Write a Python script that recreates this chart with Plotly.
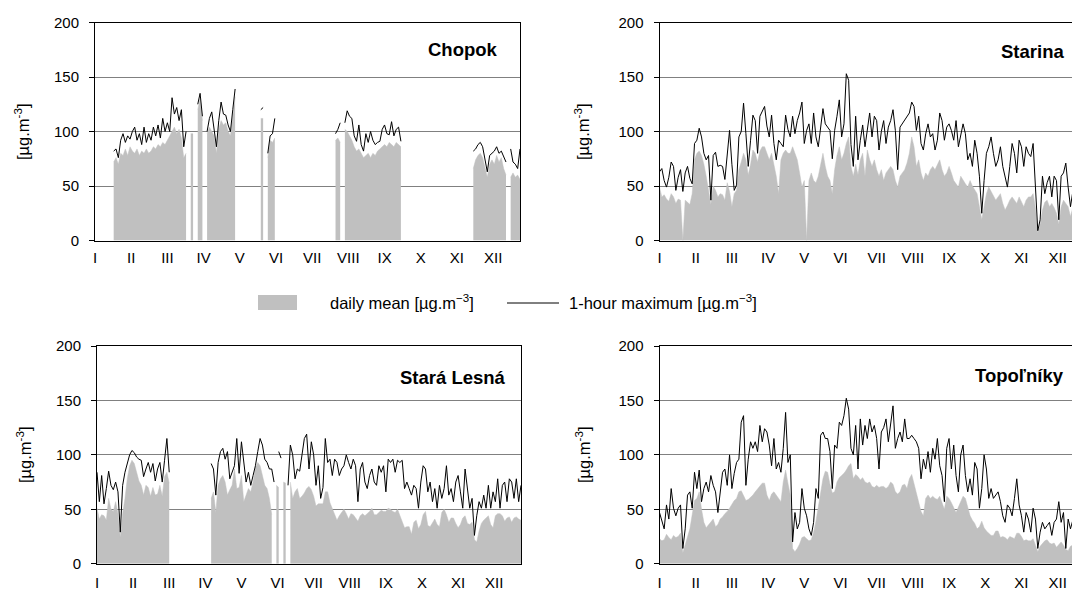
import plotly.graph_objects as go

N = None
MONTHS = ["I", "II", "III", "IV", "V", "VI", "VII", "VIII", "IX", "X", "XI", "XII"]
MONTH_TICK_DAYS = [0, 31, 62, 93, 124, 155, 186, 217, 248, 279, 310, 341]
DAY_STEP = 2  # one sample every 2 days, starting 1 January

# ---------------- Chopok (days 0..364) ----------------
chopok_mean = [
    N, N, N, N, N, N, N, N, 72, 76,
    70, 80, 78, 84, 78, 86, 82, 80, 84, 78,
    82, 80, 84, 80, 82, 86, 84, 88, 86, 90,
    88, 92, 96, 100, 104, 98, 102, 94, 76, 80,
    N, 98, 98, N, 120, 130, 110, N, 98, 104,
    100, 96, 80, 102, 110, 106, 108, 100, 96, 112,
    132, N, N, N, N, N, N, N, N, N,
    N, 112, 112, N, 76, 92, 90, 94, N, N,
    N, N, N, N, N, N, N, N, N, N,
    N, N, N, N, N, N, N, N, N, N,
    N, N, N, 92, 94, 90, N, 102, 100, 96,
    92, 86, 82, 84, 80, 76, 78, 80, 76, 80,
    78, 82, 84, 86, 88, 86, 90, 88, 86, 90,
    88, 86, N, N, N, N, N, N, N, N,
    N, N, N, N, N, N, N, N, N, N,
    N, N, N, N, N, N, N, N, N, N,
    N, N, 66, 74, 78, 80, 76, 66, 58, 70,
    74, 70, 78, 72, 76, 66, 60, N, 58, 62,
    58, 60, 56,
]
chopok_max = [
    N, N, N, N, N, N, N, N, 82, 84,
    76, 92, 98, 90, 96, 93, 100, 104, 92, 98,
    88, 104, 90, 98, 92, 104, 96, 106, 94, 112,
    100, 108, 100, 131, 116, 122, 110, 120, 86, 100,
    N, N, N, N, 125, 135, 114, N, 100, 112,
    118, 104, 86, 110, 127, 116, 115, 106, 100, 120,
    139, N, N, N, N, N, N, N, N, N,
    N, 120, 122, N, 80, 96, 98, 112, N, N,
    N, N, N, N, N, N, N, N, N, N,
    N, N, N, N, N, N, N, N, N, N,
    N, N, N, 98, 102, 108, N, 108, 119, 114,
    112, 96, 91, 106, 88, 82, 98, 90, 100, 92,
    88, 90, 91, 102, 106, 98, 97, 109, 96, 102,
    104, 91, N, N, N, N, N, N, N, N,
    N, N, N, N, N, N, N, N, N, N,
    N, N, N, N, N, N, N, N, N, N,
    N, N, 82, 84, 88, 90, 86, 74, 63, 78,
    80, 82, 86, 80, 82, 76, 72, N, 84, 72,
    70, 66, 84,
]

# ---------------- Starina (days 0..354 visible) ----------------
starina_mean = [
    49, 40, 42, 38, 36, 43, 40, 34, 38, 37,
    0, 37, 35, 33, 43, 74, 80, 82, 78, 70,
    59, 45, 33, 50, 46, 40, 43, 42, 37, 53,
    45, 31, 43, 46, 65, 72, 80, 74, 60, 70,
    83, 80, 72, 82, 86, 86, 80, 74, 80, 68,
    59, 43, 74, 80, 83, 80, 80, 86, 80, 74,
    62, 49, 55, 0, 55, 62, 55, 53, 59, 70,
    80, 68, 59, 55, 43, 65, 78, 86, 74, 80,
    89, 95, 68, 59, 70, 60, 74, 80, 59, 83,
    74, 68, 74, 65, 59, 65, 55, 62, 65, 68,
    65, 55, 49, 59, 62, 65, 71, 80, 95, 86,
    68, 74, 62, 55, 62, 59, 65, 68, 65, 70,
    74, 65, 59, 62, 68, 62, 55, 52, 49, 59,
    55, 52, 49, 55, 50, 46, 43, 31, 19, 31,
    43, 49, 45, 40, 37, 40, 43, 34, 28, 32,
    37, 40, 37, 34, 40, 35, 31, 37, 40, 40,
    43, 30, 7, 15, 28, 35, 37, 31, 34, 30,
    25, 15, 31, 37, 34, 31, 22, 30,
]
starina_max = [
    63, 66, 55, 49, 58, 72, 68, 46, 58, 65,
    45, 62, 68, 57, 52, 89, 92, 103, 95, 80,
    74, 78, 37, 78, 81, 68, 69, 68, 56, 80,
    101, 70, 46, 51, 95, 100, 126, 98, 68, 92,
    115, 110, 80, 114, 118, 123, 105, 95, 115, 89,
    74, 92, 89, 86, 115, 102, 95, 114, 98, 110,
    117, 127, 89, 101, 107, 89, 117, 95, 86, 104,
    121, 107, 104, 101, 75, 101, 114, 129, 95, 107,
    153, 147, 88, 68, 114, 74, 92, 106, 86, 100,
    117, 95, 114, 110, 83, 100, 110, 89, 104, 110,
    120, 101, 65, 104, 107, 110, 114, 117, 127, 123,
    101, 114, 89, 83, 98, 107, 95, 98, 83, 92,
    117, 110, 92, 104, 107, 101, 92, 110, 86, 98,
    107, 98, 74, 80, 68, 92, 80, 59, 25, 55,
    80, 86, 95, 80, 68, 74, 86, 68, 59, 49,
    68, 89, 80, 62, 92, 86, 68, 86, 80, 77,
    89, 49, 9, 19, 59, 43, 53, 59, 40, 59,
    55, 19, 59, 62, 71, 49, 31, 45,
]

# ---------------- Stará Lesná (days 0..364) ----------------
lesna_mean = [
    51, 41, 45, 44, 40, 60, 50, 48, 57, 46,
    24, 46, 60, 78, 90, 95, 92, 85, 76, 72,
    63, 72, 70, 62, 70, 63, 64, 72, 62, 80,
    84, 74, N, N, N, N, N, N, N, N,
    N, N, N, N, N, N, N, N, N, 60,
    66, 47, 72, 78, 81, 75, 63, 68, 72, 87,
    69, 70, 81, 57, 63, 69, 66, 75, 88, 93,
    90, 81, 72, 69, 60, 45, N, 72, 70, N,
    75, 74, N, 75, 60, 66, 69, 60, 62, 65,
    69, 71, 68, 62, 53, 55, 55, 55, 66, 66,
    56, 50, 45, 40, 44, 47, 50, 46, 41, 46,
    45, 42, 39, 44, 46, 44, 46, 48, 51, 45,
    45, 47, 49, 48, 48, 51, 50, 48, 47, 50,
    44, 38, 33, 34, 34, 27, 38, 40, 32, 36,
    45, 48, 35, 34, 38, 41, 36, 34, 47, 50,
    45, 38, 42, 42, 37, 33, 36, 42, 44, 37,
    36, 38, 22, 20, 30, 37, 40, 42, 44, 36,
    33, 44, 46, 46, 44, 39, 42, 43, 38, 42,
    43, 41, 40,
]
lesna_max = [
    84, 57, 81, 55, 69, 85, 72, 68, 75, 66,
    29, 72, 84, 92, 100, 104, 102, 98, 96, 95,
    80, 87, 93, 84, 92, 76, 87, 93, 75, 95,
    115, 84, N, N, N, N, N, N, N, N,
    N, N, N, N, N, N, N, N, N, 92,
    87, 63, 93, 103, 106, 96, 103, 78, 84, 90,
    115, 83, 112, 90, 75, 84, 72, 81, 90, 103,
    115, 109, 96, 93, 87, 87, 75, N, 103, 97,
    N, N, 72, 109, 100, 78, 87, 85, 100, 115,
    119, 87, 112, 100, 72, 90, 60, 70, 115, 93,
    96, 81, 96, 93, 81, 87, 90, 100, 93, 87,
    96, 90, 57, 87, 93, 75, 69, 81, 87, 75,
    72, 90, 84, 90, 66, 96, 93, 96, 84, 95,
    93, 95, 69, 75, 69, 63, 72, 69, 51, 75,
    90, 87, 66, 75, 57, 69, 51, 72, 60, 69,
    90, 63, 69, 57, 75, 81, 66, 51, 87, 66,
    51, 60, 26, 44, 57, 51, 63, 51, 72, 51,
    66, 57, 78, 51, 72, 75, 57, 78, 75, 60,
    78, 57, 72,
]

# ---------------- Topoľníky (days 0..354 visible) ----------------
topolniky_mean = [
    23, 21, 22, 27, 24, 22, 26, 24, 25, 28,
    10, 18, 26, 32, 45, 58, 60, 66, 50, 38,
    33, 36, 39, 41, 34, 36, 41, 43, 46, 48,
    51, 55, 58, 60, 66, 67, 63, 58, 59, 61,
    63, 66, 69, 72, 74, 74, 63, 58, 64, 66,
    63, 60, 57, 75, 86, 74, 63, 14, 11, 14,
    18, 24, 25, 23, 21, 22, 29, 39, 52, 63,
    78, 85, 84, 73, 65, 66, 75, 79, 81, 83,
    86, 90, 92, 78, 82, 80, 77, 79, 75, 74,
    75, 71, 70, 72, 70, 71, 71, 69, 71, 75,
    73, 66, 64, 66, 72, 73, 69, 78, 82, 73,
    65, 56, 48, 44, 60, 63, 60, 62, 60, 59,
    62, 56, 50, 62, 60, 56, 51, 47, 52, 57,
    62, 60, 52, 44, 40, 37, 32, 34, 39, 33,
    30, 28, 26, 26, 30, 30, 24, 25, 24, 22,
    25, 24, 23, 28, 28, 25, 21, 22, 21, 21,
    23, 17, 11, 16, 19, 21, 22, 19, 18, 19,
    15, 18, 20, 17, 13, 12, 16, 17,
]
topolniky_max = [
    47, 38, 32, 54, 41, 69, 51, 44, 51, 54,
    14, 32, 63, 66, 51, 84, 69, 86, 57, 69,
    75, 66, 81, 72, 66, 47, 69, 84, 87, 72,
    100, 69, 83, 93, 96, 130, 136, 72, 96, 112,
    106, 112, 103, 127, 112, 124, 121, 109, 90, 115,
    87, 93, 84, 106, 139, 93, 100, 20, 47, 32,
    38, 69, 51, 44, 32, 26, 38, 69, 60, 118,
    121, 115, 115, 103, 69, 109, 106, 130, 127, 136,
    152, 142, 106, 100, 127, 87, 133, 109, 127, 115,
    133, 121, 127, 115, 87, 121, 125, 133, 112, 130,
    145, 106, 115, 121, 112, 133, 115, 115, 118, 115,
    112, 106, 78, 96, 87, 103, 84, 106, 96, 115,
    90, 81, 57, 106, 115, 87, 109, 81, 66, 100,
    109, 81, 66, 78, 63, 93, 87, 51, 69, 100,
    87, 60, 69, 60, 63, 66, 57, 44, 38, 54,
    51, 44, 60, 78, 54, 44, 29, 47, 41, 29,
    51, 41, 14, 29, 38, 32, 35, 38, 26, 38,
    41, 57, 38, 47, 14, 41, 32, 40,
]

for a, b in [(chopok_mean, chopok_max), (starina_mean, starina_max),
             (lesna_mean, lesna_max), (topolniky_mean, topolniky_max)]:
    assert len(a) == len(b), (len(a), len(b))

W, H = 1072, 592
GRAY = "#C0C0C0"
GRID = "#808080"
FONT = "Liberation Sans, Arial, sans-serif"
TICK_SIZE = 15
TEXT_SIZE = 16.5
TITLE_SIZE = 18.5

panels = [
    dict(name="Chopok", mean=chopok_mean, mx=chopok_max,
         box=(95, 520, 22.5, 240.5), xmax=364, rborder=True, xstand=3,
         title_at=(500, 50), ytitle_at=(22, 132)),
    dict(name="Starina", mean=starina_mean, mx=starina_max,
         box=(659.5, 1072, 22.5, 240.5), xmax=353.3, rborder=False, xstand=3,
         title_at=(1066, 51), ytitle_at=(582, 132)),
    dict(name="Stará Lesná", mean=lesna_mean, mx=lesna_max,
         box=(97, 521, 346, 563.7), xmax=364, rborder=True, xstand=5,
         title_at=(508, 377), ytitle_at=(24, 455)),
    dict(name="Topoľníky", mean=topolniky_mean, mx=topolniky_max,
         box=(659.5, 1072, 346, 563.7), xmax=353.3, rborder=False, xstand=5,
         title_at=(1066, 375), ytitle_at=(583, 455)),
]


def runs(values):
    """Split a series with gaps (None) into contiguous (days, values) runs."""
    out, cur_x, cur_y = [], [], []
    for k, v in enumerate(values):
        if v is None:
            if cur_x:
                out.append((cur_x, cur_y))
                cur_x, cur_y = [], []
        else:
            cur_x.append(k * DAY_STEP)
            cur_y.append(v)
    if cur_x:
        out.append((cur_x, cur_y))
    return out


fig = go.Figure()
annotations = []
for i, p in enumerate(panels, start=1):
    xa = "x" if i == 1 else f"x{i}"
    ya = "y" if i == 1 else f"y{i}"
    # daily mean: grey area, one filled polygon per contiguous run
    for rx, ry in runs(p["mean"]):
        fig.add_trace(go.Scatter(
            x=rx, y=ry, mode="lines", fill="tozeroy", fillcolor=GRAY,
            line=dict(color=GRAY, width=0.5),
            xaxis=xa, yaxis=ya, showlegend=False, hoverinfo="skip"))
    # 1-hour maximum: black line
    days_max = [k * DAY_STEP for k in range(len(p["mx"]))]
    fig.add_trace(go.Scatter(
        x=days_max, y=p["mx"], mode="lines", connectgaps=False,
        line=dict(color="black", width=1),
        xaxis=xa, yaxis=ya, showlegend=False, hoverinfo="skip"))
    x0, x1, yt, yb = p["box"]
    fig.layout["xaxis" if i == 1 else f"xaxis{i}"] = dict(
        domain=[x0 / W, x1 / W], range=[0, p["xmax"]], anchor=ya,
        tickmode="array", tickvals=MONTH_TICK_DAYS, ticktext=MONTHS,
        showline=True, linecolor="black", linewidth=1, mirror=True,
        ticks="", showgrid=False, zeroline=False, ticklabelstandoff=p["xstand"],
        tickfont=dict(family=FONT, size=TICK_SIZE, color="black"),
        fixedrange=True)
    fig.layout["yaxis" if i == 1 else f"yaxis{i}"] = dict(
        domain=[1 - yb / H, 1 - yt / H], range=[0, 200], anchor=xa,
        tickmode="linear", tick0=0, dtick=50,
        showgrid=True, gridcolor=GRID, gridwidth=1,
        showline=True, linecolor="black", linewidth=1,
        mirror=p["rborder"], ticks="outside", ticklen=5, tickcolor="black",
        zeroline=False, ticklabelstandoff=7,
        tickfont=dict(family=FONT, size=TICK_SIZE, color="black"),
        fixedrange=True)
    tx, ty = p["title_at"]
    annotations.append(dict(
        text=f"<b>{p['name']}</b>", xref="paper", yref="paper",
        x=tx / W, y=1 - ty / H, xanchor="right", yanchor="middle",
        showarrow=False, font=dict(family=FONT, size=TITLE_SIZE, color="black")))
    gx, gy = p["ytitle_at"]
    annotations.append(dict(
        text="[µg.m<sup>-3</sup>]", xref="paper", yref="paper",
        x=gx / W, y=1 - gy / H, xanchor="center", yanchor="middle",
        textangle=-90, showarrow=False,
        font=dict(family=FONT, size=TEXT_SIZE, color="black")))

# legend (drawn manually to match the original layout)
annotations.append(dict(
    text="daily mean [µg.m<sup>−3</sup>]", xref="paper", yref="paper",
    x=328 / W, y=1 - 302 / H, xanchor="left", yanchor="middle",
    showarrow=False, font=dict(family=FONT, size=TEXT_SIZE, color="black")))
annotations.append(dict(
    text="1-hour maximum [µg.m<sup>−3</sup>]", xref="paper", yref="paper",
    x=567 / W, y=1 - 302 / H, xanchor="left", yanchor="middle",
    showarrow=False, font=dict(family=FONT, size=TEXT_SIZE, color="black")))
shapes = [
    dict(type="rect", xref="paper", yref="paper",
         x0=258 / W, x1=297 / W, y0=1 - 310 / H, y1=1 - 295 / H,
         fillcolor=GRAY, line=dict(width=0)),
    dict(type="line", xref="paper", yref="paper",
         x0=507 / W, x1=559 / W, y0=1 - 303 / H, y1=1 - 303 / H,
         line=dict(color="black", width=1)),
]

fig.update_layout(
    width=W, height=H, margin=dict(l=0, r=0, t=0, b=0, autoexpand=False),
    paper_bgcolor="white", plot_bgcolor="white",
    showlegend=False,
    annotations=annotations, shapes=shapes,
    font=dict(family=FONT, color="black"),
)

fig.write_html(
    "out.html",
    post_script="document.body.style.margin='0px';document.body.style.overflow='hidden';",
)
